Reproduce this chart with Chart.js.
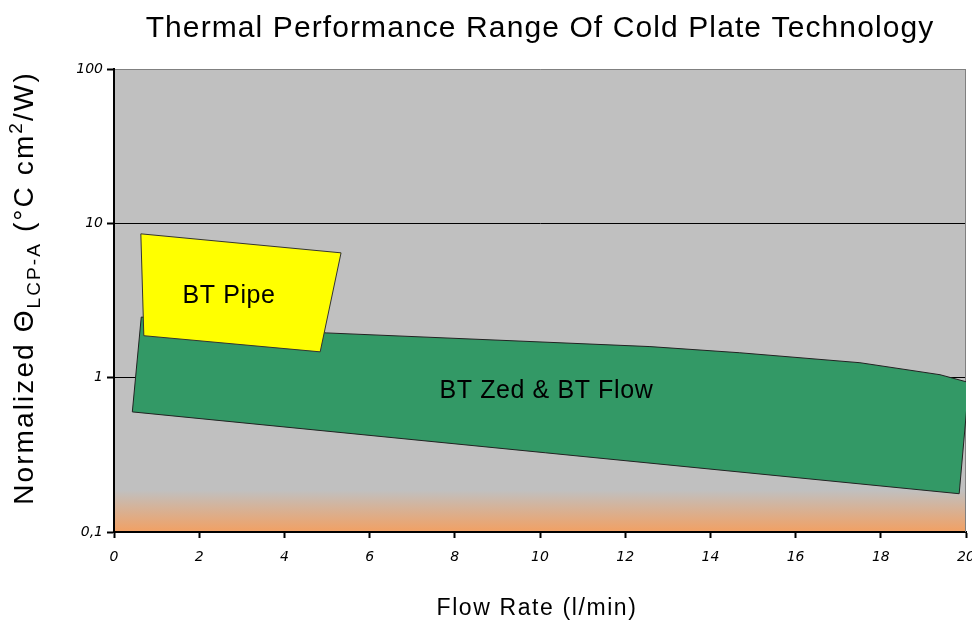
<!DOCTYPE html>
<html>
<head>
<meta charset="utf-8">
<script src="https://cdn.jsdelivr.net/npm/chart.js"></script>
<style>
  html, body { margin: 0; padding: 0; background: #fff; }
  #wrap { width: 972px; height: 623px; }
</style>
</head>
<body>
<div id="wrap"><canvas id="chart" width="972" height="623"></canvas></div>
<script>
// region outlines (flow in l/min, resistance in °C cm²/W)
const pipeFlow = [0.63, 5.33, 4.84, 0.70, 0.63];
const pipeTheta = [8.55, 6.44, 1.47, 1.87, 8.55];
const zedFlow = [0.64, 4.98, 12.58, 14.69, 17.51, 19.39, 20.07, 19.84, 0.43, 0.64];
const zedTheta = [2.47, 1.95, 1.59, 1.45, 1.25, 1.045, 0.93, 0.177, 0.60, 2.47];

const regionNames = ['BT Pipe', 'BT Zed & BT Flow'];
const regionLabelFlow = [2.70, 10.15];
const regionLabelTheta = [3.4, 0.82];

const yTickValues = [0.1, 1, 10, 100];
const yTickLabels = ['0,1', '1', '10', '100'];

const chartTitle = 'Thermal Performance Range Of Cold Plate Technology';
const xTitle = 'Flow Rate (l/min)';

const toPoints = (xs, ys) => xs.map((x, i) => ({ x: x, y: ys[i] }));

// grey plot area with the orange fade at the bottom
const plotBackground = {
  id: 'plotBackground',
  beforeDraw(chart) {
    const { ctx, chartArea: a } = chart;
    ctx.save();
    const grad = ctx.createLinearGradient(0, a.bottom - 42, 0, a.bottom);
    grad.addColorStop(0, '#C0C0C0');
    grad.addColorStop(1, '#F2A063');
    ctx.fillStyle = '#C0C0C0';
    ctx.fillRect(a.left, a.top, a.right - a.left, a.bottom - a.top);
    ctx.fillStyle = grad;
    ctx.fillRect(a.left, a.bottom - 42, a.right - a.left, 42);
    ctx.restore();
  },
  beforeDatasetsDraw(chart) {
    const { ctx, chartArea: a } = chart;
    ctx.save();
    ctx.strokeStyle = '#808080';
    ctx.lineWidth = 1;
    ctx.beginPath();
    ctx.moveTo(a.right - 0.5, a.top);
    ctx.lineTo(a.right - 0.5, a.bottom);
    ctx.stroke();
    ctx.restore();
  }
};

function spacedText(ctx, text, x, y, spacing) {
  ctx.letterSpacing = spacing + 'px';
  ctx.fillText(text, x, y);
}

// titles and region names
const textLayer = {
  id: 'textLayer',
  afterDatasetsDraw(chart) {
    const { ctx, scales } = chart;
    ctx.save();
    ctx.fillStyle = '#000';
    ctx.textAlign = 'center';
    ctx.textBaseline = 'middle';
    ctx.font = '25px "Liberation Sans", Arial, sans-serif';
    regionNames.forEach((name, i) => {
      const px = scales.x.getPixelForValue(regionLabelFlow[i]);
      const py = scales.y.getPixelForValue(regionLabelTheta[i]);
      spacedText(ctx, name, px, py, 0.6);
    });
    ctx.restore();
  },
  afterDraw(chart) {
    const { ctx, chartArea: a } = chart;
    const cx = (a.left + a.right) / 2;
    ctx.save();
    ctx.fillStyle = '#000';
    ctx.textAlign = 'center';
    ctx.textBaseline = 'alphabetic';
    ctx.font = '30px "Liberation Sans", Arial, sans-serif';
    spacedText(ctx, chartTitle, cx, 37, 1.1);
    ctx.font = '23px "Liberation Sans", Arial, sans-serif';
    spacedText(ctx, xTitle, cx - 3, 615, 1.6);

    // y title with subscript and superscript
    const big = '28px "Liberation Sans", Arial, sans-serif';
    const small = '19px "Liberation Sans", Arial, sans-serif';
    const parts = [
      { t: 'Normalized \u0398', f: big, dy: 0 },
      { t: 'LCP-A', f: small, dy: 7 },
      { t: ' (\u00B0C cm', f: big, dy: 0 },
      { t: '2', f: small, dy: -11 },
      { t: '/W)', f: big, dy: 0 }
    ];
    ctx.letterSpacing = '2.1px';
    let total = 0;
    parts.forEach(p => { ctx.font = p.f; p.w = ctx.measureText(p.t).width; total += p.w; });
    ctx.translate(33, 288);
    ctx.rotate(-Math.PI / 2);
    ctx.textAlign = 'left';
    let pos = -total / 2;
    parts.forEach(p => {
      ctx.font = p.f;
      ctx.fillText(p.t, pos, p.dy);
      pos += p.w;
    });
    ctx.restore();
  }
};

new Chart(document.getElementById('chart'), {
  type: 'line',
  data: {
    datasets: [
      {
        label: 'BT Pipe',
        data: toPoints(pipeFlow, pipeTheta),
        borderColor: '#333333',
        borderWidth: 1,
        backgroundColor: '#FFFF00',
        fill: 'shape',
        pointRadius: 0,
        tension: 0
      },
      {
        label: 'BT Zed & BT Flow',
        data: toPoints(zedFlow, zedTheta),
        borderColor: '#222222',
        borderWidth: 1,
        backgroundColor: '#339966',
        fill: 'shape',
        pointRadius: 0,
        tension: 0
      }
    ]
  },
  options: {
    responsive: false,
    animation: false,
    layout: { padding: { top: 69, right: 6, left: 0, bottom: 0 } },
    plugins: {
      legend: { display: false },
      tooltip: { enabled: false }
    },
    scales: {
      x: {
        type: 'linear',
        min: 0,
        max: 20,
        afterFit: s => { s.height = 91; s.paddingLeft = 0; s.paddingRight = 0; },
        ticks: {
          stepSize: 2,
          color: '#000',
          padding: 11,
          maxRotation: 0,
          font: { family: '"DejaVu Sans"', size: 14, style: 'italic' }
        },
        grid: {
          drawOnChartArea: false,
          tickLength: 6,
          tickColor: '#000',
          tickWidth: 2
        },
        border: { color: '#000', width: 2 }
      },
      y: {
        type: 'logarithmic',
        min: 0.1,
        max: 100,
        afterFit: s => { s.width = 114; s.paddingTop = 0; s.paddingBottom = 0; },
        afterBuildTicks: s => { s.ticks = yTickValues.map(v => ({ value: v })); },
        ticks: {
          color: '#000',
          padding: 4,
          font: { family: '"DejaVu Sans"', size: 14, style: 'italic' },
          callback: (v, i) => yTickLabels[i]
        },
        grid: {
          color: c => {
            const v = c.tick ? c.tick.value : null;
            if (v === 1 || v === 10) return '#000';
            if (v === 100) return '#808080';
            return 'rgba(0,0,0,0)';
          },
          lineWidth: 1,
          tickLength: 7,
          tickColor: '#000',
          tickWidth: 2
        },
        border: { color: '#000', width: 2 }
      }
    }
  },
  plugins: [plotBackground, textLayer]
});
</script>
</body>
</html>
